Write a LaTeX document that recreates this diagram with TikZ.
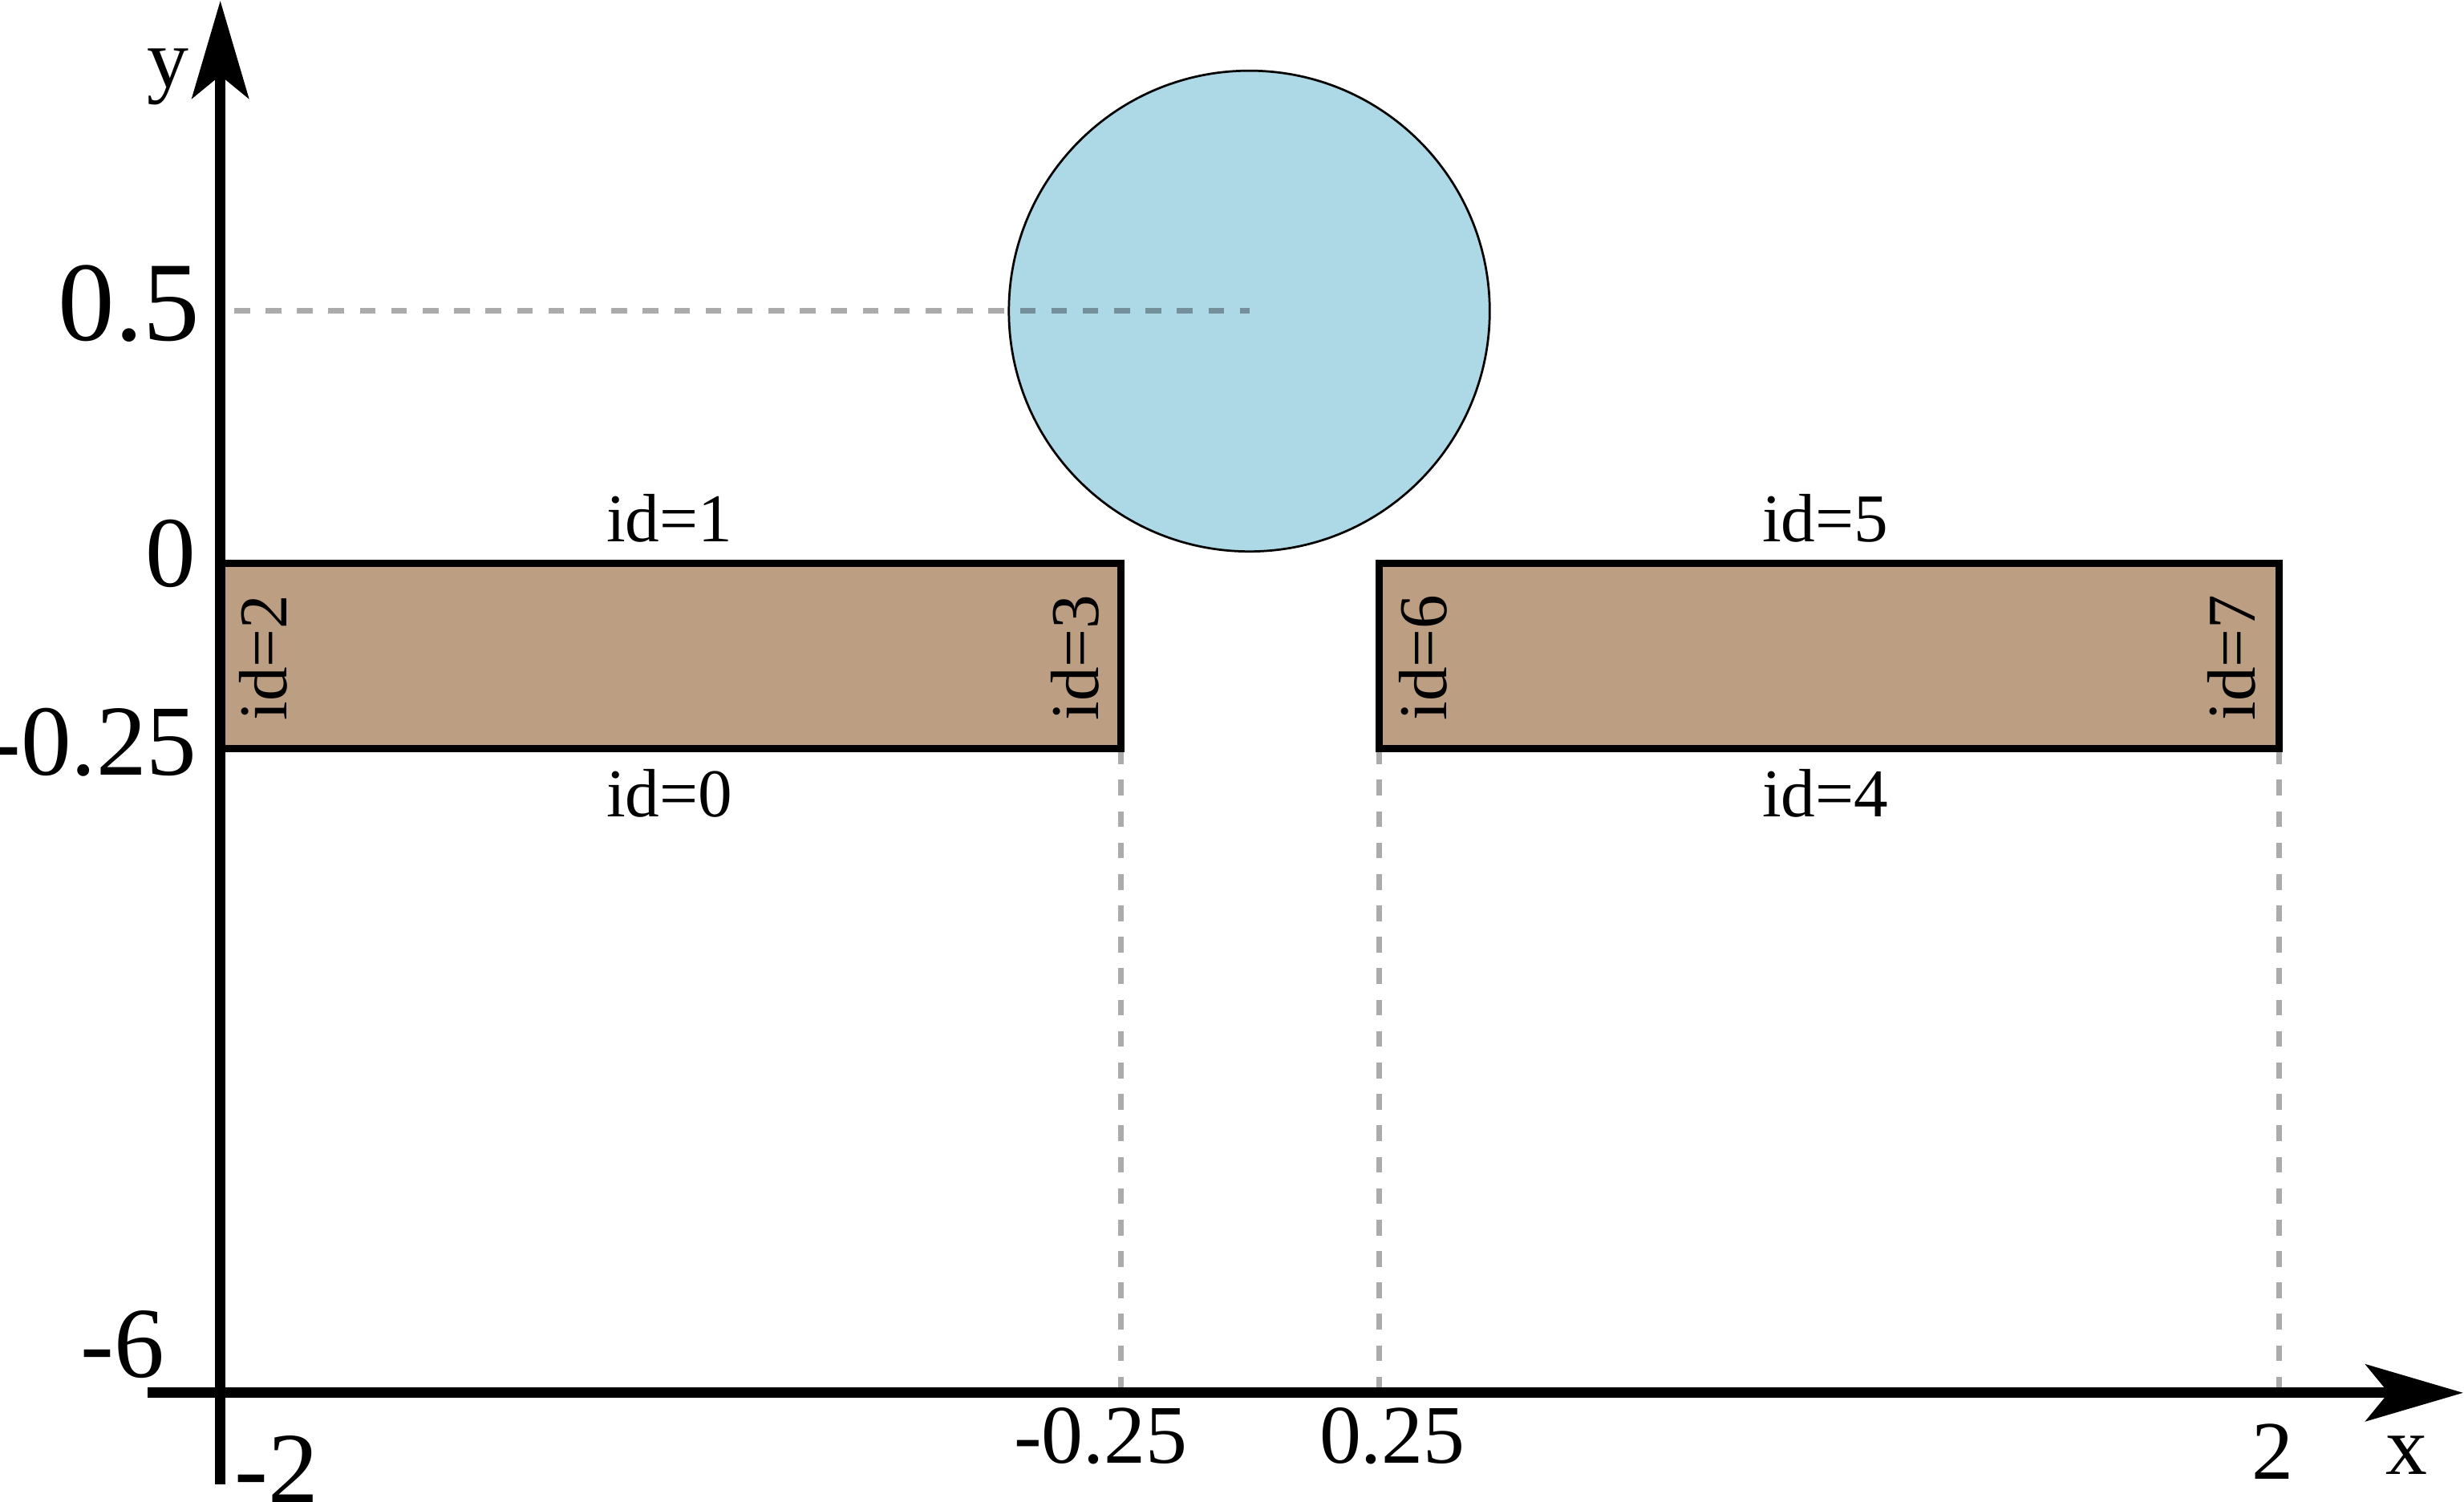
\documentclass[tikz,border=0pt]{standalone}
\usepackage{fontspec}
\setmainfont{Liberation Serif}
\usetikzlibrary{arrows.meta}
\definecolor{tanfill}{RGB}{188,158,130}
\definecolor{ballblue}{RGB}{173,216,230}
\begin{document}
\begin{tikzpicture}[x=1pt,y=-1pt,
  idlbl/.style={inner sep=0pt, font=\fontsize{43.5}{52}\selectfont},
  ylbl/.style={inner sep=0pt, font=\fontsize{64}{76}\selectfont},
  xlbl/.style={inner sep=0pt, font=\fontsize{53}{64}\selectfont},
  guide/.style={draw=black, draw opacity=0.33, line width=3.5pt, dash pattern=on 10pt off 10pt},
  wall/.style={fill=tanfill, draw=black, line width=4.6pt},
  axisline/.style={line width=6.6pt, -{Stealth[length=62pt,width=36pt,inset=14.5pt]}}
]
\useasboundingbox (0,0) rectangle (1568,956);

% coordinates
\coordinate (L1) at (140.5,358.4);
\coordinate (L2) at (713.4,476.3);
\coordinate (R1) at (877.5,358.4);
\coordinate (R2) at (1450.5,476.3);
\coordinate (C) at (795,198);
\coordinate (G0) at (149,198);
\coordinate (Ax0) at (94,886.5);
\coordinate (Ax1) at (1567.5,886.5);
\coordinate (Ay0) at (140.2,945);
\coordinate (Ay1) at (140.2,0.5);
\coordinate (B1) at (713.4,886.5);
\coordinate (B2) at (877.5,886.5);
\coordinate (B3) at (1450.5,886.5);
\coordinate (T2) at (1450.5,476.3);

% walls
\draw[wall] (L1) rectangle (L2);
\draw[wall] (R1) rectangle (R2);

% ball
\draw[fill=ballblue, draw=black, line width=1.4pt] (C) circle (153);

% guides
\draw[guide] (G0) -- (C);
\draw[guide] (L2) -- (B1);
\draw[guide] (R1 |- R2) -- (B2);
\draw[guide] (T2) -- (B3);

% axes
\draw[axisline] (Ax0) -- (Ax1);
\draw[axisline] (Ay0) -- (Ay1);

% labels
\node[xlbl] (ylab) at (107,49) {y};
\node[xlbl] (xlab) at (1531.5,926) {x};
\node[inner sep=0pt, font=\fontsize{72}{86}\selectfont] (yhalf) at (82,193) {0.5};
\node[ylbl] (yzero) at (108.5,352.5) {0};
\node[ylbl, anchor=east] (yq) at (125.5,472.5) {-0.25};
\node[ylbl] (ysix) at (78,856) {-6};
\node[ylbl] (xmtwo) at (176,935) {-2};
\node[xlbl] (xmq) at (700.5,914) {-0.25};
\node[xlbl] (xq) at (886,914) {0.25};
\node[xlbl] (xtwo) at (1446,924) {2};

\node[idlbl] (id1) at (426,330) {id=1};
\node[idlbl] (id0) at (426,505) {id=0};
\node[idlbl] (id5) at (1161.5,330) {id=5};
\node[idlbl] (id4) at (1161.5,505) {id=4};
\node[idlbl, rotate=90] (id2) at (167.5,418.5) {id=2};
\node[idlbl, rotate=90] (id3) at (684,418.5) {id=3};
\node[idlbl, rotate=90] (id6) at (905.5,418.5) {id=6};
\node[idlbl, rotate=90] (id7) at (1420,418.5) {id=7};
\end{tikzpicture}
\end{document}
